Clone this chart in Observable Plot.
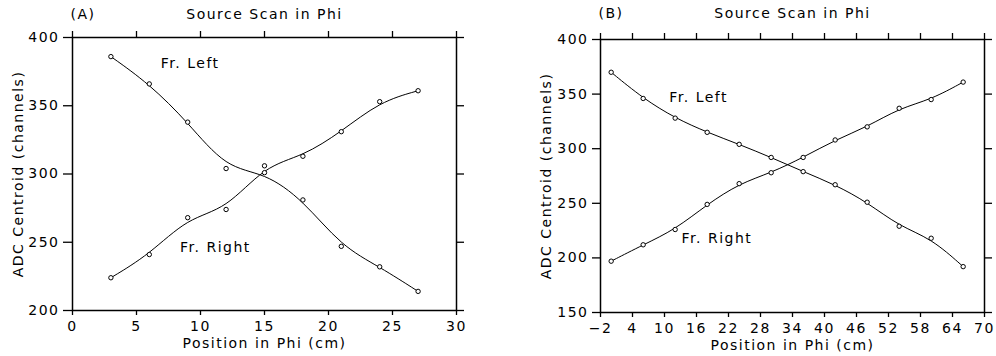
<!DOCTYPE html>
<html>
<head>
<meta charset="utf-8">
<script src="https://cdn.jsdelivr.net/npm/d3@7"></script>
<script src="https://cdn.jsdelivr.net/npm/@observablehq/plot@0.6"></script>
<style>
  html, body { margin: 0; padding: 0; background: #fff; }
  #wrap { display: flex; width: 996px; height: 356px; }
  #wrap svg { letter-spacing: 1.5px; }
</style>
</head>
<body>
<div id="wrap"></div>
<script>
// ---- Panel A data ----
const xA = [3, 6, 9, 12, 15, 18, 21, 24, 27];
const leftA = [386, 366, 338, 304, 301, 281, 247, 232, 214];
const rightA = [224, 241, 268, 274, 306, 313, 331, 353, 361];
const xTicksA = [0, 5, 10, 15, 20, 25, 30];
const yTicksA = [200, 250, 300, 350, 400];
const labelsA = [
  {text: "Fr. Left", x: 6.9, y: 381},
  {text: "Fr. Right", x: 8.4, y: 246}
];

// ---- Panel B data ----
const xB = [0, 6, 12, 18, 24, 30, 36, 42, 48, 54, 60, 66];
const leftB = [370, 346, 328, 315, 304, 292, 279, 267, 251, 229, 218, 192];
const rightB = [197, 212, 226, 249, 268, 278, 292, 308, 320, 337, 345, 361];
const xTicksB = [-2, 4, 10, 16, 22, 28, 34, 40, 46, 52, 58, 64, 70];
const yTicksB = [150, 200, 250, 300, 350, 400];
const labelsB = [
  {text: "Fr. Left", x: 10.9, y: 347},
  {text: "Fr. Right", x: 13.2, y: 218}
];

const title = "Source Scan in Phi";
const xLabel = "Position in Phi (cm)";
const yLabel = "ADC Centroid (channels)";

function rows(xs, left, right) {
  return [
    ...xs.map((x, i) => ({x, y: left[i], s: "Fr. Left"})),
    ...xs.map((x, i) => ({x, y: right[i], s: "Fr. Right"}))
  ];
}

function panel(cfg) {
  const data = rows(cfg.xs, cfg.left, cfg.right);
  return Plot.plot({
    width: 498,
    height: 356,
    marginLeft: cfg.ml,
    marginRight: cfg.mr,
    marginTop: cfg.mt,
    marginBottom: cfg.mb,
    style: {fontFamily: "DejaVu Sans", fontSize: "14px", background: "white", color: "black", overflow: "visible"},
    x: {domain: cfg.xDomain},
    y: {domain: cfg.yDomain},
    marks: [
      Plot.axisX({anchor: "bottom", ticks: cfg.xTicks, tickSize: 5, tickPadding: 6, label: null, strokeWidth: 1.3}),
      Plot.axisX({anchor: "top", ticks: cfg.xTicks, tickSize: 7, tickFormat: () => "", label: null, strokeWidth: 1.3}),
      Plot.axisY({anchor: "left", ticks: cfg.yTicks, tickSize: cfg.yTickSize, tickPadding: 4, label: null, strokeWidth: 1.3}),
      Plot.axisY({anchor: "right", ticks: cfg.yTicks, tickSize: 7, tickFormat: () => "", label: null, strokeWidth: 1.3}),
      Plot.frame({stroke: "black", strokeWidth: 1.5}),
      Plot.line(data, {x: "x", y: "y", z: "s", curve: "basis", stroke: "black", strokeWidth: 1}),
      Plot.dot(data, {x: "x", y: "y", r: 2.2, stroke: "black", fill: "white", strokeWidth: 1}),
      Plot.text(cfg.labels, {x: "x", y: "y", text: "text", textAnchor: "start", lineAnchor: "middle", fill: "black"}),
      Plot.text([title], {frameAnchor: "top", dy: cfg.titleDy, textAnchor: "middle", lineAnchor: "middle", fill: "black"}),
      Plot.text([cfg.tag], {frameAnchor: "top-left", dy: cfg.titleDy, dx: -2, textAnchor: "start", lineAnchor: "middle", fill: "black"}),
      Plot.text([xLabel], {frameAnchor: "bottom", dy: 33, textAnchor: "middle", lineAnchor: "middle", fill: "black"}),
      Plot.text([yLabel], {frameAnchor: "left", dx: -54, rotate: -90, textAnchor: "middle", lineAnchor: "middle", fill: "black"})
    ]
  });
}

const wrap = document.getElementById("wrap");
wrap.appendChild(panel({
  xs: xA, left: leftA, right: rightA,
  xDomain: [0, 30], yDomain: [200, 400],
  xTicks: xTicksA, yTicks: yTicksA,
  ml: 72, mr: 42, mt: 37, mb: 46,
  yTickSize: 9, titleDy: -23, tag: "(A)", labels: labelsA
}));
wrap.appendChild(panel({
  xs: xB, left: leftB, right: rightB,
  xDomain: [-2, 70], yDomain: [150, 400],
  xTicks: xTicksB, yTicks: yTicksB,
  ml: 102, mr: 12, mt: 39, mb: 44,
  yTickSize: 8, titleDy: -26, tag: "(B)", labels: labelsB
}));
</script>
</body>
</html>
